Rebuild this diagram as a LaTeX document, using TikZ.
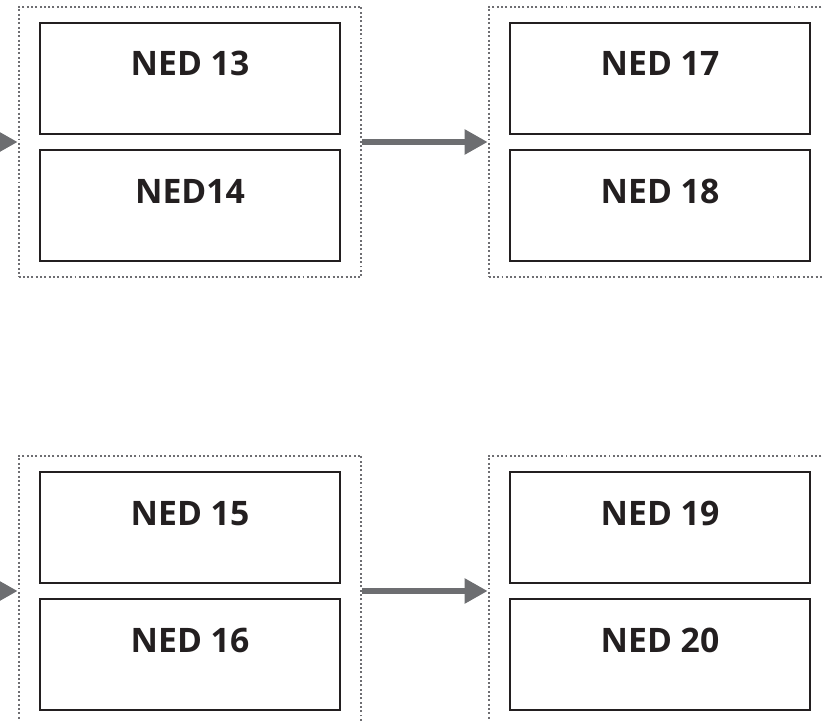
\documentclass[tikz,border=0pt]{standalone}
\usepackage{fontspec}
\setmainfont{Open Sans}
\usepackage{tikz}
\usetikzlibrary{calc,positioning,arrows.meta,fit}
\definecolor{framegray}{RGB}{110,110,114}
\definecolor{arrowgray}{RGB}{109,110,113}
\definecolor{boxblack}{RGB}{35,31,32}

\begin{document}
\begin{tikzpicture}[
		nedbox/.style={draw=boxblack, line width=2pt, minimum width=7.5cm, inner xsep=0pt, inner ysep=0.725cm, text height=0.6cm, text depth=0.725cm, text=boxblack, font=\fontsize{24pt}{28pt}\selectfont\bfseries},
		group/.style={draw=framegray, line width=1.4pt, dash pattern=on 1.4pt off 1.66pt, inner xsep=0.5cm, inner ysep=0.375cm},
		flow/.style={draw=arrowgray, line width=3.9pt, -{Triangle[length=0.575cm,width=0.6cm]}}
	]
			\useasboundingbox (0, 0) rectangle (20.575, 18);
			\clip (0, 0) rectangle (20.575, 18);

			% upper row
			\node[nedbox] (ned13) at(4.75, 16.0375){NED 13};
				\node[nedbox, below=0.33cm of ned13] (ned14){NED14};
			\node[nedbox] (ned17) at(16.5, 16.0375){NED 17};
				\node[nedbox, below=0.33cm of ned17] (ned18){NED 18};

			\node[group, fit=(ned13)(ned14)] (upleft){};
			\node[group, fit=(ned17)(ned18)] (upright){};

			% lower row
			\node[nedbox] (ned15) at(4.75, 4.8125){NED 15};
				\node[nedbox, below=0.33cm of ned15] (ned16){NED 16};
			\node[nedbox] (ned19) at(16.5, 4.8125){NED 19};
				\node[nedbox, below=0.33cm of ned19] (ned20){NED 20};

			\node[group, fit=(ned15)(ned16)] (lowleft){};
			\node[group, fit=(ned19)(ned20)] (lowright){};

			% arrows
			\coordinate (upin) at ([xshift=-2cm]upleft.west);
			\coordinate (lowin) at ([xshift=-2cm]lowleft.west);
			\draw[flow] (upin) to (upleft.west);
			\draw[flow] (upleft.east) to (upright.west);
			\draw[flow] (lowin) to (lowleft.west);
			\draw[flow] (lowleft.east) to (lowright.west);

		\end{tikzpicture}
\end{document}
